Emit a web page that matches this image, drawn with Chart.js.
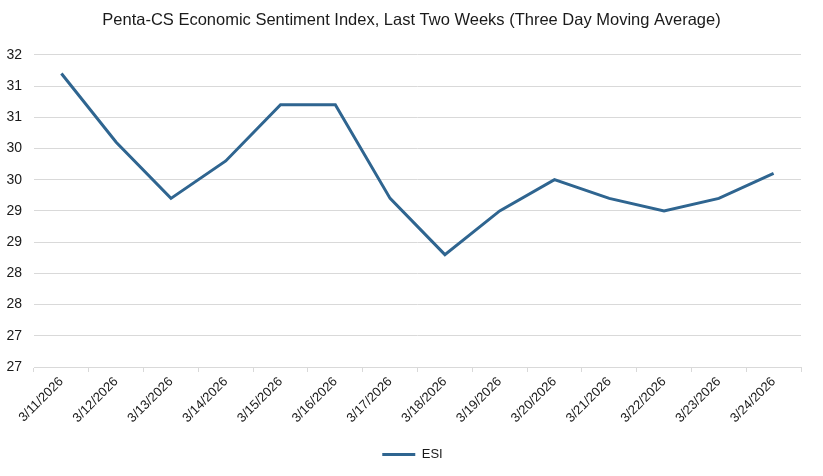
<!DOCTYPE html>
<html>
<head>
<meta charset="utf-8">
<script src="https://cdn.jsdelivr.net/npm/chart.js@4"></script>
<style>
  html, body { margin: 0; padding: 0; background: #ffffff; }
  #wrap { width: 823px; height: 476px; position: relative; }
</style>
</head>
<body>
<div id="wrap"><canvas id="c" width="823" height="476"></canvas></div>
<script>
const titleText = "Penta-CS Economic Sentiment Index, Last Two Weeks (Three Day Moving Average)";
const categories = ["3/11/2026","3/12/2026","3/13/2026","3/14/2026","3/15/2026","3/16/2026","3/17/2026","3/18/2026","3/19/2026","3/20/2026","3/21/2026","3/22/2026","3/23/2026","3/24/2026"];
const seriesName = "ESI";
const esiValues = [31.7, 30.6, 29.7, 30.3, 31.2, 31.2, 29.7, 28.8, 29.5, 30.0, 29.7, 29.5, 29.7, 30.1];
const yMin = 27;
const yMax = 32;
const yStep = 0.5;

const lineColor = '#2F6590';
const gridColor = '#D9D9D9';
const textColor = '#1a1a1a';
const fontFamily = '"Liberation Sans", Arial, sans-serif';

const boxShift = {
  id: 'boxShift',
  afterLayout(chart) {
    const lg = chart.legend;
    if (lg) { lg.left += 12; lg.right += 12; }
    const tt = chart.titleBlock;
    if (tt) { tt.left += 11; tt.right += 11; }
  }
};

new Chart(document.getElementById('c'), {
  type: 'line',
  data: {
    labels: categories,
    datasets: [{
      label: seriesName,
      data: esiValues,
      borderColor: lineColor,
      backgroundColor: lineColor,
      borderWidth: 3,
      pointRadius: 0,
      pointHoverRadius: 0,
      tension: 0,
      fill: false
    }]
  },
  plugins: [boxShift],
  options: {
    responsive: false,
    animation: false,
    devicePixelRatio: 1,
    layout: { padding: { left: 0, right: 22, top: 0, bottom: 5 } },
    plugins: {
      title: {
        display: true,
        text: titleText,
        color: textColor,
        font: { family: fontFamily, size: 16.5, weight: 'normal', lineHeight: 1.2 },
        padding: { top: 11, bottom: 24 }
      },
      legend: {
        display: true,
        position: 'bottom',
        labels: {
          color: textColor,
          font: { family: fontFamily, size: 13 },
          usePointStyle: true,
          pointStyle: 'line',
          pointStyleWidth: 33,
          boxHeight: 13,
          padding: 10
        }
      },
      tooltip: { enabled: false }
    },
    scales: {
      x: {
        type: 'category',
        offset: true,
        grid: {
          offset: true,
          drawOnChartArea: false,
          drawTicks: true,
          tickLength: 5,
          color: gridColor
        },
        border: { display: true, color: gridColor },
        ticks: {
          color: textColor,
          font: { family: fontFamily, size: 13 },
          maxRotation: 45,
          minRotation: 45,
          autoSkip: false,
          padding: 2
        },
        afterFit: (s) => { s.height = 71; }
      },
      y: {
        min: yMin,
        max: yMax,
        grid: { color: gridColor, drawTicks: false },
        border: { display: false },
        ticks: {
          stepSize: yStep,
          color: textColor,
          font: { family: fontFamily, size: 14 },
          padding: 12,
          callback: (v) => String(Math.floor(v + 1e-9))
        },
        afterFit: (s) => { s.width = 34; }
      }
    }
  }
});
</script>
</body>
</html>
